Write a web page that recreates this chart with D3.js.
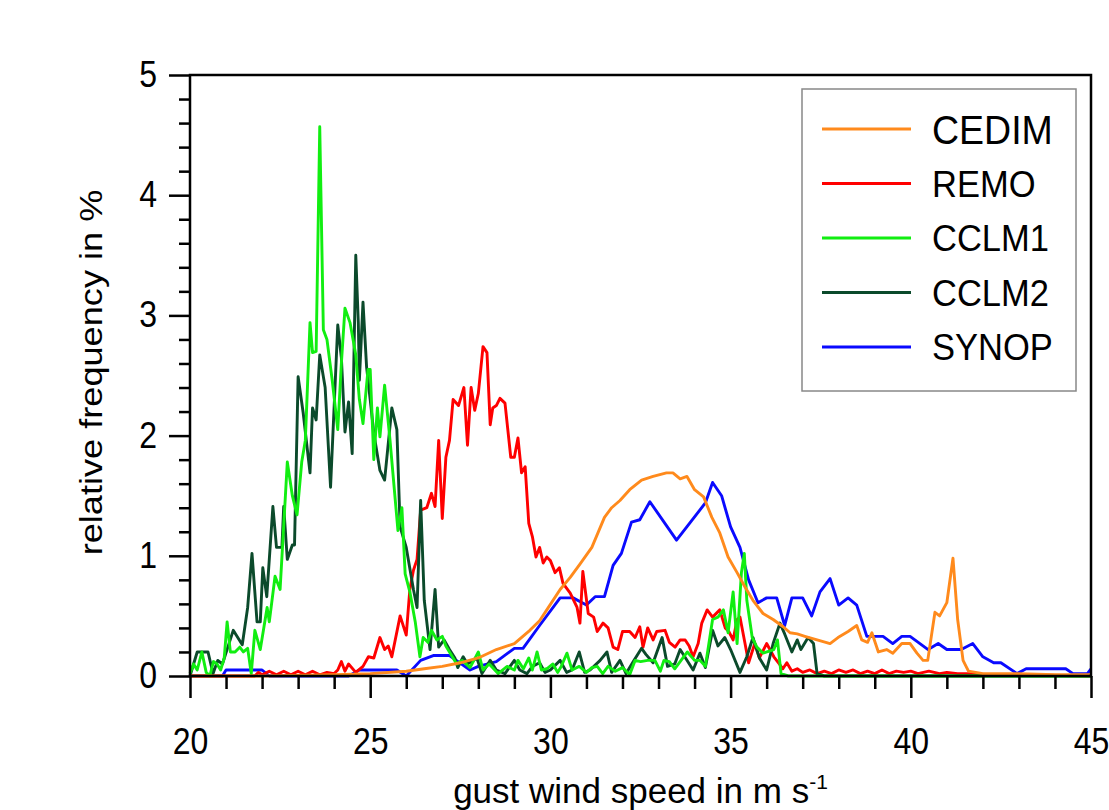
<!DOCTYPE html>
<html>
<head>
<meta charset="utf-8">
<script src="https://cdn.jsdelivr.net/npm/d3@7"></script>
<style>
  html, body { margin: 0; padding: 0; background: #fff; }
  svg { display: block; font-family: "Liberation Sans", Arial, sans-serif; }
</style>
</head>
<body>
<script>
// series as [wind speed, relative frequency]
const cedim = [[20,0],[22,0],[24,0.01],[25,0.02],[26,0.04],[26.5,0.06],[27,0.08],[27.5,0.11],[28,0.15],[28.5,0.22],[29,0.27],[29.43,0.38],[29.7,0.46],[29.9,0.55],[30.27,0.72],[30.55,0.82],[30.82,0.93],[31.15,1.07],[31.5,1.32],[31.7,1.4],[31.93,1.46],[32.2,1.55],[32.53,1.63],[32.85,1.66],[33.22,1.69],[33.4,1.69],[33.6,1.64],[33.79,1.66],[34.0,1.55],[34.25,1.49],[34.48,1.32],[34.7,1.19],[34.93,0.99],[35.18,0.86],[35.4,0.74],[35.62,0.63],[35.9,0.52],[36.18,0.47],[36.46,0.41],[36.65,0.36],[36.85,0.35],[37.06,0.33],[37.4,0.3],[37.76,0.27],[37.98,0.32],[38.26,0.37],[38.5,0.42],[38.64,0.3],[38.8,0.28],[38.92,0.36],[39.1,0.2],[39.33,0.22],[39.5,0.19],[39.75,0.27],[39.98,0.27],[40.17,0.19],[40.34,0.13],[40.47,0.13],[40.67,0.53],[40.8,0.5],[41.0,0.61],[41.17,0.98],[41.3,0.47],[41.45,0.13],[41.6,0.04],[42,0.02],[43,0.02],[44,0.01],[45,0.01]];

const remo = [[20,0],[21.8,0],[21.9,0.03],[22.0,0.01],[22.2,0.04],[22.4,0.01],[22.6,0.04],[22.8,0.01],[23.0,0.04],[23.2,0.01],[23.4,0.04],[23.6,0.01],[23.8,0.03],[24.0,0.02],[24.1,0.05],[24.2,0.12],[24.3,0.04],[24.4,0.1],[24.6,0.03],[24.8,0.08],[24.95,0.16],[25.1,0.15],[25.27,0.32],[25.4,0.22],[25.5,0.25],[25.6,0.16],[25.83,0.5],[26.0,0.34],[26.1,0.72],[26.2,0.88],[26.3,0.97],[26.4,1.38],[26.57,1.4],[26.7,1.52],[26.8,1.41],[26.9,1.96],[27.0,1.31],[27.1,1.82],[27.2,1.96],[27.3,2.3],[27.45,2.25],[27.6,2.4],[27.7,1.92],[27.8,2.4],[27.9,2.21],[28.0,2.35],[28.13,2.74],[28.24,2.69],[28.33,2.09],[28.4,2.23],[28.5,2.25],[28.6,2.31],[28.74,2.27],[28.9,1.82],[29.0,1.82],[29.1,1.98],[29.2,1.69],[29.3,1.74],[29.4,1.27],[29.5,1.16],[29.6,0.99],[29.7,1.07],[29.8,0.94],[29.9,0.99],[30.0,0.96],[30.13,0.86],[30.25,0.9],[30.35,0.77],[30.55,0.69],[30.74,0.57],[30.82,0.44],[30.9,0.87],[31.05,0.52],[31.2,0.49],[31.3,0.37],[31.46,0.44],[31.6,0.4],[31.74,0.24],[31.87,0.22],[32.0,0.37],[32.2,0.37],[32.35,0.32],[32.48,0.41],[32.57,0.24],[32.7,0.4],[32.85,0.3],[32.95,0.37],[33.18,0.38],[33.3,0.28],[33.46,0.24],[33.6,0.3],[33.74,0.3],[33.85,0.25],[33.96,0.16],[34.1,0.27],[34.2,0.44],[34.35,0.55],[34.5,0.49],[34.7,0.55],[34.85,0.4],[34.95,0.37],[35.07,0.3],[35.18,0.47],[35.26,0.49],[35.4,0.27],[35.5,0.11],[35.67,0.27],[35.8,0.15],[36.0,0.27],[36.2,0.16],[36.35,0.1],[36.45,0.06],[36.56,0.11],[36.7,0.04],[36.85,0.06],[37.0,0.03],[37.2,0.05],[37.4,0.02],[37.6,0.04],[37.8,0.02],[38.0,0.05],[38.2,0.03],[38.4,0.05],[38.6,0.02],[38.8,0.04],[39.0,0.02],[39.2,0.05],[39.4,0.02],[39.6,0.04],[39.8,0.03],[40.0,0.04],[40.2,0.02],[40.5,0.04],[40.8,0.02],[41.0,0.03],[41.3,0.02],[41.6,0.02],[42,0.01],[43,0.01],[45,0.0]];

const cclm1 = [[20.0,0.02],[20.1,0.1],[20.2,0.05],[20.33,0.2],[20.45,0.03],[20.55,0.0],[20.65,0.12],[20.75,0.1],[20.85,0.05],[20.95,0.15],[21.03,0.45],[21.12,0.2],[21.25,0.2],[21.38,0.24],[21.48,0.2],[21.6,0.23],[21.7,0.02],[21.8,0.38],[21.95,0.22],[22.14,0.57],[22.2,0.45],[22.36,0.83],[22.5,0.72],[22.7,1.78],[22.84,1.5],[22.97,1.34],[23.1,1.78],[23.2,1.96],[23.33,2.94],[23.4,2.69],[23.5,2.7],[23.6,4.57],[23.7,2.88],[23.8,2.8],[23.95,2.45],[24.1,2.05],[24.2,2.6],[24.3,3.06],[24.44,2.94],[24.6,2.67],[24.7,2.3],[24.8,2.1],[24.94,2.55],[25.0,2.55],[25.1,1.8],[25.2,2.23],[25.27,1.99],[25.4,2.42],[25.55,1.96],[25.77,1.21],[25.88,1.4],[25.97,0.85],[26.1,0.7],[26.25,0.45],[26.38,0.16],[26.47,0.32],[26.6,0.28],[26.7,0.38],[26.85,0.3],[27.0,0.33],[27.1,0.25],[27.2,0.2],[27.3,0.15],[27.4,0.1],[27.55,0.13],[27.77,0.07],[28.0,0.2],[28.13,0.05],[28.3,0.1],[28.55,0.02],[28.8,0.08],[29.0,0.05],[29.1,0.13],[29.25,0.06],[29.4,0.15],[29.5,0.05],[29.63,0.2],[29.75,0.05],[29.9,0.06],[30.07,0.1],[30.2,0.03],[30.3,0.08],[30.46,0.19],[30.6,0.05],[30.8,0.08],[31.0,0.03],[31.15,0.07],[31.3,0.08],[31.45,0.02],[31.6,0.08],[31.8,0.04],[32.0,0.07],[32.2,0.01],[32.35,0.13],[32.5,0.12],[32.7,0.13],[32.9,0.13],[33.05,0.04],[33.15,0.13],[33.3,0.12],[33.45,0.06],[33.6,0.12],[33.8,0.2],[34.0,0.13],[34.15,0.13],[34.3,0.08],[34.5,0.47],[34.65,0.49],[34.8,0.55],[34.93,0.36],[35.07,0.7],[35.18,0.27],[35.3,0.86],[35.38,1.02],[35.45,0.63],[35.6,0.32],[35.73,0.24],[35.9,0.19],[36.2,0.22],[36.3,0.3],[36.4,0.02],[36.6,0.0],[45,0.0]];

const cclm2 = [[20.0,0.0],[20.2,0.2],[20.36,0.2],[20.5,0.2],[20.64,0.02],[20.77,0.13],[20.9,0.1],[21.05,0.24],[21.2,0.38],[21.45,0.26],[21.6,0.57],[21.72,1.02],[21.86,0.45],[21.95,0.45],[22.02,0.9],[22.13,0.66],[22.3,1.41],[22.4,1.07],[22.55,1.07],[22.6,1.41],[22.7,0.97],[22.84,1.09],[22.9,1.09],[23.0,2.49],[23.14,2.19],[23.33,1.69],[23.4,2.23],[23.5,2.13],[23.6,2.67],[23.75,2.4],[23.9,1.57],[24.1,2.92],[24.2,2.65],[24.3,2.03],[24.4,2.28],[24.5,1.85],[24.6,3.5],[24.67,2.94],[24.7,2.46],[24.8,3.11],[24.9,2.57],[25.0,2.3],[25.1,2.02],[25.27,1.71],[25.4,1.63],[25.6,2.23],[25.74,2.05],[25.83,1.24],[26.0,1.07],[26.2,0.72],[26.3,0.57],[26.4,1.46],[26.5,0.63],[26.66,0.22],[26.8,0.72],[26.9,0.24],[27.05,0.3],[27.2,0.22],[27.35,0.15],[27.43,0.07],[27.58,0.16],[27.7,0.1],[27.96,0.15],[28.1,0.02],[28.33,0.13],[28.5,0.05],[28.74,0.02],[29.0,0.13],[29.15,0.05],[29.35,0.02],[29.5,0.08],[29.7,0.11],[29.85,0.03],[30.0,0.05],[30.27,0.13],[30.45,0.03],[30.6,0.05],[30.8,0.2],[30.95,0.03],[31.1,0.05],[31.38,0.13],[31.57,0.2],[31.7,0.03],[31.93,0.13],[32.1,0.02],[32.3,0.12],[32.53,0.23],[32.65,0.18],[32.85,0.11],[33.1,0.32],[33.25,0.08],[33.45,0.1],[33.6,0.22],[33.75,0.15],[33.96,0.05],[34.15,0.19],[34.3,0.07],[34.5,0.38],[34.65,0.25],[34.84,0.32],[35.0,0.22],[35.26,0.03],[35.45,0.16],[35.62,0.32],[35.8,0.15],[36.0,0.05],[36.18,0.27],[36.37,0.44],[36.5,0.35],[36.7,0.2],[36.85,0.3],[36.95,0.22],[37.15,0.32],[37.3,0.27],[37.4,0.02],[37.6,0.0],[45,0.0]];

const synop = [[20,0],[20.9,0],[21.0,0.05],[22.0,0.05],[22.2,0],[24.4,0],[24.7,0.05],[25.74,0.05],[26.0,0],[26.4,0.13],[26.75,0.17],[27.2,0.17],[27.77,0.05],[28.0,0.08],[28.5,0.12],[29.0,0.23],[29.24,0.23],[29.7,0.42],[30.27,0.65],[30.63,0.65],[31.0,0.59],[31.24,0.66],[31.5,0.66],[31.74,0.92],[31.97,1.02],[32.25,1.28],[32.48,1.3],[32.76,1.45],[33.5,1.13],[34.3,1.44],[34.5,1.61],[34.75,1.5],[35.0,1.24],[35.26,1.07],[35.5,0.8],[35.76,0.61],[36.0,0.65],[36.28,0.65],[36.5,0.42],[36.7,0.65],[37.0,0.65],[37.25,0.5],[37.48,0.7],[37.76,0.81],[38.0,0.59],[38.26,0.65],[38.5,0.59],[38.78,0.33],[39.23,0.33],[39.5,0.27],[39.75,0.33],[39.98,0.33],[40.48,0.22],[40.76,0.27],[41.0,0.22],[41.4,0.22],[41.72,0.27],[42.0,0.16],[42.3,0.11],[42.5,0.11],[42.95,0.02],[43.2,0.06],[44.3,0.06],[44.5,0.02],[44.9,0.02],[45.0,0.06]];

const seriesNames = ['CEDIM', 'REMO', 'CCLM1', 'CCLM2', 'SYNOP'];
const seriesColors = ['#ff8a1c', '#ff0000', '#11ee11', '#0b4a2b', '#0a0aff'];
const seriesData = [cedim, remo, cclm1, cclm2, synop];
const drawOrder = ['SYNOP', 'REMO', 'CCLM2', 'CCLM1', 'CEDIM'];

const xMajorTicks = [20, 25, 30, 35, 40, 45];
const yMajorTicks = [0, 1, 2, 3, 4, 5];

const width = 1109;
const height = 810;
const margin = { top: 75, right: 18, bottom: 134, left: 190 };
const innerW = width - margin.left - margin.right;
const innerH = height - margin.top - margin.bottom;
const stretch = 1.13; // the source text is a bit taller than wide

const svg = d3.select('body').append('svg')
  .attr('width', width)
  .attr('height', height);

const g = svg.append('g')
  .attr('transform', `translate(${margin.left},${margin.top})`);

const x = d3.scaleLinear().domain([20, 45]).range([0, innerW]);
const y = d3.scaleLinear().domain([0, 5]).range([innerH, 0]);

// lines
const line = d3.line()
  .x(d => x(d[0]))
  .y(d => y(d[1]));

drawOrder.forEach(name => {
  const i = seriesNames.indexOf(name);
  g.append('path')
    .datum(seriesData[i])
    .attr('fill', 'none')
    .attr('stroke', seriesColors[i])
    .attr('stroke-width', 2.9)
    .attr('stroke-linejoin', 'round')
    .attr('d', line);
});

// frame
g.append('rect')
  .attr('width', innerW)
  .attr('height', innerH)
  .attr('fill', 'none')
  .attr('stroke', '#000')
  .attr('stroke-width', 2.5);

// axes
const minorY = d3.range(0, 5.01, 0.2).filter(v => Math.abs(v - Math.round(v)) > 1e-6);
const minorX = d3.range(20, 45.01, 1).filter(v => v % 5 !== 0);

g.append('g')
  .call(d3.axisLeft(y).tickValues(minorY).tickSize(11).tickFormat(''))
  .call(a => a.select('.domain').remove());
g.append('g')
  .attr('class', 'ylab')
  .call(d3.axisLeft(y).tickValues(yMajorTicks).tickSize(21).tickPadding(12).tickFormat(d3.format('d')))
  .call(a => a.select('.domain').remove());

g.append('g')
  .attr('transform', `translate(0,${innerH})`)
  .call(d3.axisBottom(x).tickValues(minorX).tickSize(13).tickFormat(''))
  .call(a => a.select('.domain').remove());
g.append('g')
  .attr('class', 'xlab')
  .attr('transform', `translate(0,${innerH})`)
  .call(d3.axisBottom(x).tickValues(xMajorTicks).tickSize(22).tickPadding(24).tickFormat(d3.format('d')))
  .call(a => a.select('.domain').remove());

g.selectAll('.tick line').attr('stroke', '#000').attr('stroke-width', 2.5);
g.selectAll('.tick text')
  .attr('fill', '#000')
  .attr('transform', `scale(1,${stretch})`)
  .style('font-family', '"Liberation Sans", Arial, sans-serif')
  .style('font-size', '32px');

// axis titles
svg.append('text')
  .attr('transform', `translate(102,${margin.top + innerH / 2 - 3}) rotate(-90) scale(${stretch},1)`)
  .attr('text-anchor', 'middle')
  .style('font-size', '32px')
  .text('relative frequency in %');

const xt = svg.append('text')
  .attr('x', margin.left + innerW / 2)
  .attr('y', 803)
  .attr('text-anchor', 'middle')
  .style('font-size', '35px');
xt.append('tspan').text('gust wind speed in m s');
xt.append('tspan').attr('dy', -14).style('font-size', '21px').text('-1');

// legend
const legend = svg.append('g');
legend.append('rect')
  .attr('x', 802).attr('y', 89)
  .attr('width', 274).attr('height', 302)
  .attr('fill', '#fff')
  .attr('stroke', '#888')
  .attr('stroke-width', 1.5);

seriesNames.forEach((name, i) => {
  const ly = 129 + i * 54.5;
  legend.append('line')
    .attr('x1', 822).attr('x2', 911)
    .attr('y1', ly).attr('y2', ly)
    .attr('stroke', seriesColors[i])
    .attr('stroke-width', 2.8);
  legend.append('text')
    .attr('transform', `translate(932,${ly}) scale(1,1.08)`)
    .attr('dy', '0.36em')
    .style('font-size', i === 0 ? '37.5px' : '34.5px')
    .text(name);
});
</script>
</body>
</html>
